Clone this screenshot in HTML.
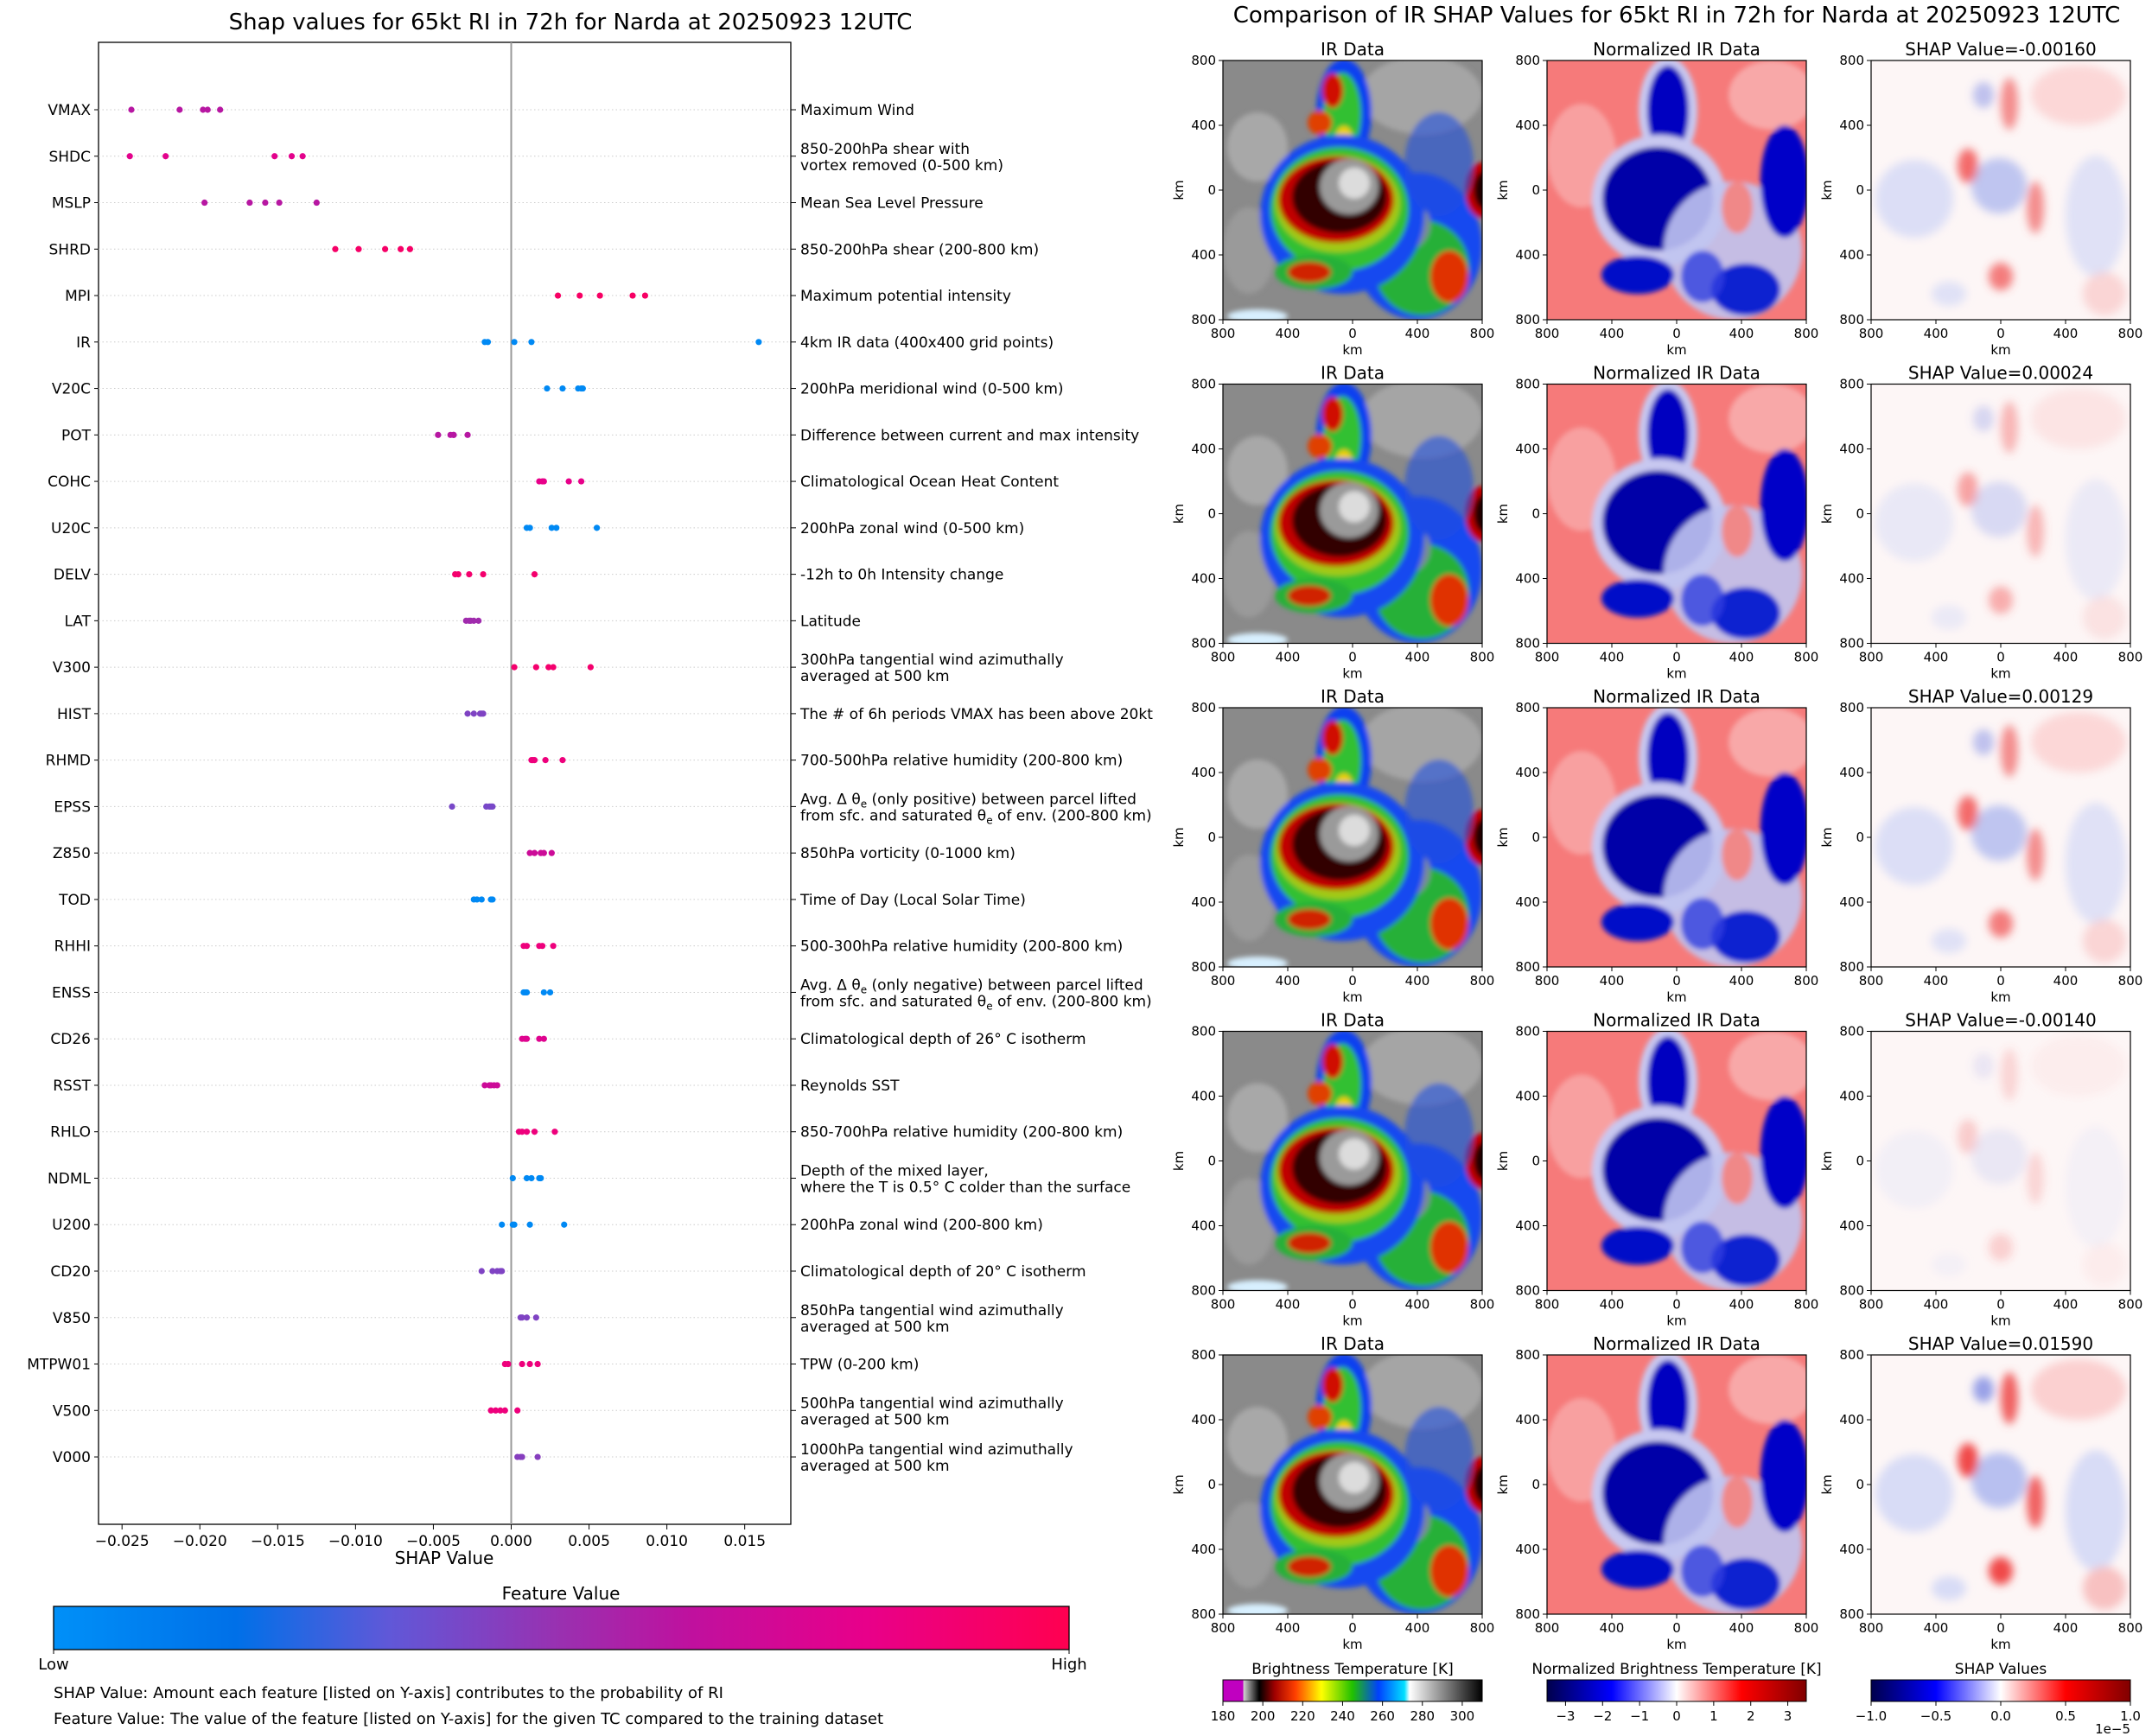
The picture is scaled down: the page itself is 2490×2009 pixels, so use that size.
<!DOCTYPE html>
<html><head><meta charset="utf-8">
<style>
html,body{margin:0;padding:0;background:#fff;}
svg{display:block;font-family:"DejaVu Sans","Liberation Sans",sans-serif;}
</style></head>
<body>
<svg id="fig" width="2490" height="2009" viewBox="0 0 2490 2009" xmlns="http://www.w3.org/2000/svg">
<defs>
<linearGradient id="fvgrad" x1="0" x2="1" y1="0" y2="0">
<stop offset="0" stop-color="#0090f8"/><stop offset="0.18" stop-color="#0070e8"/><stop offset="0.33" stop-color="#6058d8"/><stop offset="0.5" stop-color="#9a30b0"/><stop offset="0.63" stop-color="#c0109e"/><stop offset="0.8" stop-color="#e8008a"/><stop offset="1" stop-color="#ff0050"/>
</linearGradient>
<linearGradient id="irgrad" x1="0" x2="1">
<stop offset="0" stop-color="#c000c0"/><stop offset="0.077" stop-color="#c000c0"/><stop offset="0.08" stop-color="#d0d0d0"/><stop offset="0.14" stop-color="#000"/><stop offset="0.2" stop-color="#a00000"/><stop offset="0.28" stop-color="#ff4000"/><stop offset="0.38" stop-color="#ffff00"/><stop offset="0.5" stop-color="#20c000"/><stop offset="0.6" stop-color="#0040ff"/><stop offset="0.7" stop-color="#00e0ff"/><stop offset="0.72" stop-color="#ffffff"/><stop offset="1" stop-color="#000"/>
</linearGradient>
<linearGradient id="seis" x1="0" x2="1">
<stop offset="0" stop-color="#00004c"/><stop offset="0.25" stop-color="#0000ff"/><stop offset="0.5" stop-color="#ffffff"/><stop offset="0.75" stop-color="#ff0000"/><stop offset="1" stop-color="#800000"/>
</linearGradient>
<filter id="blur3"><feGaussianBlur stdDeviation="3"/></filter>
<filter id="blur6"><feGaussianBlur stdDeviation="5"/></filter>
</defs>
<g id="left"></g>
<g id="right"></g>
</svg>
<script>
// ---- Left chart data ----
const features = ["VMAX","SHDC","MSLP","SHRD","MPI","IR","V20C","POT","COHC","U20C","DELV","LAT","V300","HIST","RHMD","EPSS","Z850","TOD","RHHI","ENSS","CD26","RSST","RHLO","NDML","U200","CD20","V850","MTPW01","V500","V000"];
const descriptions = [
 ["Maximum Wind"],["850-200hPa shear with","vortex removed (0-500 km)"],["Mean Sea Level Pressure"],["850-200hPa shear (200-800 km)"],
 ["Maximum potential intensity"],["4km IR data (400x400 grid points)"],["200hPa meridional wind (0-500 km)"],["Difference between current and max intensity"],
 ["Climatological Ocean Heat Content"],["200hPa zonal wind (0-500 km)"],["-12h to 0h Intensity change"],["Latitude"],
 ["300hPa tangential wind azimuthally","averaged at 500 km"],["The # of 6h periods VMAX has been above 20kt"],["700-500hPa relative humidity (200-800 km)"],
 ["EPSS1","EPSS2"],["850hPa vorticity (0-1000 km)"],["Time of Day (Local Solar Time)"],["500-300hPa relative humidity (200-800 km)"],
 ["ENSS1","ENSS2"],["Climatological depth of 26° C isotherm"],["Reynolds SST"],["850-700hPa relative humidity (200-800 km)"],
 ["Depth of the mixed layer,","where the T is 0.5° C colder than the surface"],["200hPa zonal wind (200-800 km)"],["Climatological depth of 20° C isotherm"],
 ["850hPa tangential wind azimuthally","averaged at 500 km"],["TPW (0-200 km)"],["500hPa tangential wind azimuthally","averaged at 500 km"],["1000hPa tangential wind azimuthally","averaged at 500 km"]
];
const shapValues = [
 [-0.0244,-0.0213,-0.0198,-0.0195,-0.0187],
 [-0.0245,-0.0222,-0.0152,-0.0141,-0.0134],
 [-0.0197,-0.0168,-0.0158,-0.0149,-0.0125],
 [-0.0113,-0.0098,-0.0081,-0.0071,-0.0065],
 [0.0030,0.0044,0.0057,0.0078,0.0086],
 [-0.0017,-0.0015,0.0002,0.0013,0.0159],
 [0.0023,0.0033,0.0043,0.0045,0.0046],
 [-0.0047,-0.0039,-0.0037,-0.0037,-0.0028],
 [0.0018,0.0020,0.0021,0.0037,0.0045],
 [0.0010,0.0012,0.0026,0.0029,0.0055],
 [-0.0036,-0.0034,-0.0027,-0.0018,0.0015],
 [-0.0029,-0.0027,-0.0026,-0.0024,-0.0021],
 [0.0002,0.0016,0.0024,0.0027,0.0051],
 [-0.0028,-0.0024,-0.0020,-0.0019,-0.0018],
 [0.0013,0.0014,0.0015,0.0022,0.0033],
 [-0.0038,-0.0016,-0.0014,-0.0013,-0.0012],
 [0.0012,0.0015,0.0019,0.0021,0.0026],
 [-0.0024,-0.0022,-0.0019,-0.0013,-0.0012],
 [0.0008,0.0010,0.0018,0.0020,0.0027],
 [0.0008,0.0009,0.0010,0.0021,0.0025],
 [0.0007,0.0009,0.0010,0.0018,0.0021],
 [-0.0017,-0.0014,-0.0013,-0.0011,-0.0009],
 [0.0005,0.0007,0.0010,0.0015,0.0028],
 [0.0001,0.0010,0.0013,0.0018,0.0019],
 [-0.0006,0.0001,0.0002,0.0012,0.0034],
 [-0.0019,-0.0012,-0.0009,-0.0007,-0.0006],
 [0.0006,0.0007,0.0010,0.0016],
 [-0.0004,-0.0002,0.0007,0.0012,0.0017],
 [-0.0013,-0.0010,-0.0007,-0.0004,0.0004],
 [0.0004,0.0006,0.0007,0.0017]
];
const featureLevels = [0.6,0.78,0.6,0.92,0.93,0.04,0.04,0.6,0.8,0.04,0.9,0.52,0.9,0.42,0.85,0.4,0.68,0.04,0.85,0.04,0.76,0.68,0.85,0.04,0.04,0.42,0.42,0.85,0.85,0.44];
const xTicks = [-0.025,-0.020,-0.015,-0.010,-0.005,0.000,0.005,0.010,0.015];
const xTickLabels = ["\u22120.025","\u22120.020","\u22120.015","\u22120.010","\u22120.005","0.000","0.005","0.010","0.015"];

// ---- Right panel data ----
const panelTitles = ["IR Data","Normalized IR Data"];
const shapPanelValues = ["-0.00160","0.00024","0.00129","-0.00140","0.01590"];
const shapIntensity = [1.0,0.6,1.0,0.3,1.6];
const kmTicks = [800,400,0,-400,-800];
const kmTickLabels = ["800","400","0","400","800"];
const irCbTicks = [180,200,220,240,260,280,300];
const normCbTicks = [-3,-2,-1,0,1,2,3];
const normCbLabels = ["\u22123","\u22122","\u22121","0","1","2","3"];
const shapCbTicks = [-1.0,-0.5,0.0,0.5,1.0];
const shapCbLabels = ["\u22121.0","\u22120.5","0.0","0.5","1.0"];

const NS="http://www.w3.org/2000/svg";
function mk(tag, attrs, parent){const e=document.createElementNS(NS,tag);for(const k in attrs)e.setAttribute(k,attrs[k]);if(parent)parent.appendChild(e);return e;}

const AX={l:114,r:915,t:49,b:1764};
const X0=591.5, XS=18012;
function xScale(v){return X0+v*XS;}
function yScale(i){return 127+53.76*i;}

const stops=[[0,[0,144,248]],[0.18,[0,112,232]],[0.33,[96,88,216]],[0.5,[154,48,176]],[0.63,[192,16,158]],[0.8,[232,0,138]],[1,[255,0,80]]];
function cmap(t){for(let i=1;i<stops.length;i++){if(t<=stops[i][0]){const a=stops[i-1],b=stops[i];const f=(t-a[0])/(b[0]-a[0]);const c=a[1].map((v,j)=>Math.round(v+(b[1][j]-v)*f));return `rgb(${c.join(',')})`;}}return 'rgb(255,0,80)';}

const L=document.getElementById('left');
let t=mk('text',{x:660,y:34,'font-size':26,'text-anchor':'middle'},L);t.textContent="Shap values for 65kt RI in 72h for Narda at 20250923 12UTC";

const axes=mk('rect',{x:AX.l,y:AX.t,width:AX.r-AX.l,height:AX.b-AX.t,fill:'none',stroke:'#000','stroke-width':1.3},L);


features.forEach((f,i)=>{
  const y=yScale(i);
  const g=mk('line',{x1:AX.l,x2:AX.r,y1:y,y2:y,stroke:'#ccc','stroke-width':1,'stroke-dasharray':'1.5,3'},L);
  
  mk('line',{x1:AX.l-5,x2:AX.l,y1:y,y2:y,stroke:'#000'},L);
  mk('line',{x1:AX.r,x2:AX.r+6,y1:y,y2:y,stroke:'#000'},L);
  const lab=mk('text',{x:AX.l-9,y:y+6,'font-size':17,'text-anchor':'end'},L);lab.textContent=f;
  
  const d=descriptions[i];
  const dg=mk('text',{x:926,y:0,'font-size':17},L);
  
  if(d[0]==='EPSS1'||d[0]==='ENSS1'){
    const pos=d[0]==='EPSS1'?'positive':'negative';
    const s1=mk('tspan',{x:926,y:y-3},dg);s1.textContent='Avg. \u0394 \u03b8';
    const sb=mk('tspan',{'font-size':12,dy:4},dg);sb.textContent='e';
    const s2=mk('tspan',{dy:-4},dg);s2.textContent=' (only '+pos+') between parcel lifted';
    const s3=mk('tspan',{x:926,y:y+16},dg);s3.textContent='from sfc. and saturated \u03b8';
    const sb2=mk('tspan',{'font-size':12,dy:4},dg);sb2.textContent='e';
    const s4=mk('tspan',{dy:-4},dg);s4.textContent=' of env. (200-800 km)';
  } else if(d.length===2){
    const a=mk('tspan',{x:926,y:y-3},dg);a.textContent=d[0];
    const b=mk('tspan',{x:926,y:y+16},dg);b.textContent=d[1];
  } else {const a=mk('tspan',{x:926,y:y+6},dg);a.textContent=d[0];}
});
const zl=mk('line',{x1:xScale(0),x2:xScale(0),y1:AX.t,y2:AX.b,stroke:'#999','stroke-width':2},L);

features.forEach((f,i)=>{
  const y=yScale(i);
  shapValues[i].forEach((v,j)=>{
    const c=mk('circle',{cx:xScale(v),cy:y,r:3.6,fill:cmap(featureLevels[i])},L);
    
    
  });
});
xTicks.forEach((v,i)=>{
  const x=xScale(v);
  mk('line',{x1:x,x2:x,y1:AX.b,y2:AX.b+6,stroke:'#000'},L);
  const tl=mk('text',{x:x,y:AX.b+25,'font-size':17,'text-anchor':'middle'},L);tl.textContent=xTickLabels[i];
  
});
t=mk('text',{x:514,y:1810,'font-size':20,'text-anchor':'middle'},L);t.textContent="SHAP Value";

t=mk('text',{x:649,y:1851,'font-size':20,'text-anchor':'middle'},L);t.textContent="Feature Value";

const fcb=mk('rect',{x:62,y:1859,width:1175,height:50,fill:'url(#fvgrad)',stroke:'#000','stroke-width':1.3},L);

t=mk('text',{x:62,y:1932,'font-size':18,'text-anchor':'middle'},L);t.textContent="Low";

t=mk('text',{x:1237,y:1932,'font-size':18,'text-anchor':'middle'},L);t.textContent="High";

mk('line',{x1:62,x2:62,y1:1909,y2:1914,stroke:'#000'},L);mk('line',{x1:1237,x2:1237,y1:1909,y2:1914,stroke:'#000'},L);
t=mk('text',{x:62,y:1965,'font-size':18},L);t.textContent="SHAP Value: Amount each feature [listed on Y-axis] contributes to the probability of RI";

t=mk('text',{x:62,y:1995,'font-size':18},L);t.textContent="Feature Value: The value of the feature [listed on Y-axis] for the given TC compared to the training dataset";


// ---- Right panels ----
const R=document.getElementById('right');
t=mk('text',{x:1940,y:26,'font-size':26,'text-anchor':'middle'},R);t.textContent="Comparison of IR SHAP Values for 65kt RI in 72h for Narda at 20250923 12UTC";

const colX=[1415,1790,2165];
const PW=300, PH=300;
function el(g,cx,cy,rx,ry,fill,op){mk('ellipse',{cx,cy,rx,ry,fill,opacity:op===undefined?1:op},g);}
function drawIR(g){
  mk('rect',{x:0,y:0,width:PW,height:PH,fill:'#8a8a8a'},g);
  const b=mk('g',{filter:'url(#blur3)'},g);
  el(b,230,40,70,45,'#a5a5a5');el(b,40,100,35,40,'#a8a8a8');el(b,30,220,30,50,'#9a9a9a');el(b,40,296,35,8,'#d8f0ff');
  el(b,140,60,32,62,'#1040f0');el(b,138,62,22,48,'#30c030');el(b,127,35,12,20,'#d01000');el(b,112,72,14,14,'#e04000');el(b,140,90,10,14,'#f0d000');
  el(b,225,215,75,85,'#1848f0');el(b,230,240,55,55,'#28b038');el(b,262,250,22,30,'#e03000');el(b,210,190,30,30,'#7a8a9a');
  el(b,138,178,95,92,'#1848f0');el(b,135,172,80,72,'#30c030');el(b,133,166,72,56,'#f0d000',0.6);
  el(b,131,161,67,50,'#c00000');el(b,135,158,55,42,'#300000');el(b,146,146,34,32,'#9a9a9a');el(b,152,142,18,18,'#dcdcdc');
  el(b,300,150,20,32,'#c00000');el(b,302,150,12,22,'#200000');
  el(b,105,245,45,20,'#28b038');el(b,100,245,25,12,'#d02000');
  el(b,250,120,40,60,'#2050e0',0.6);
}
function drawNorm(g){
  mk('rect',{x:0,y:0,width:PW,height:PH,fill:'#f67a7a'},g);
  const b=mk('g',{filter:'url(#blur3)'},g);
  el(b,40,110,40,60,'#f8a0a0');el(b,260,40,50,40,'#f8a8a8');
  el(b,140,58,34,62,'#c8c8f0');el(b,140,58,24,52,'#0000c0');
  el(b,130,162,78,76,'#c8c8f0');el(b,128,160,64,60,'#0000a8');
  el(b,215,220,80,80,'#c0c4f0',0.9);el(b,275,140,28,65,'#0000c8');el(b,230,265,40,30,'#1020d0');
  el(b,105,248,42,22,'#0010c8');el(b,180,250,25,30,'#3040e0',0.8);el(b,220,170,18,30,'#f08888');
}
function drawShap(g,k){
  mk('rect',{x:0,y:0,width:PW,height:PH,fill:'#fdf6f6'},g);
  const b=mk('g',{filter:'url(#blur6)'},g);
  const o=v=>Math.min(1,v*k);
  el(b,240,40,55,35,'#fbd0d0',o(0.8));el(b,50,160,45,45,'#d8dcf6',o(0.9));el(b,260,180,35,70,'#d8dcf6',o(0.8));
  el(b,148,145,32,32,'#b8c0f0',o(0.9));el(b,112,122,12,20,'#f04848',o(0.8));el(b,190,170,10,30,'#f06060',o(0.7));
  el(b,160,50,10,30,'#f06060',o(0.7));el(b,150,250,14,16,'#f04848',o(0.7));el(b,90,270,20,14,'#d8dcf6',o(0.8));
  el(b,270,270,25,25,'#f8c0c0',o(0.6));el(b,130,40,12,15,'#6070e0',o(0.4));
}
for(let r=0;r<5;r++){
  const y0=70+374.5*r;
  for(let c=0;c<3;c++){
    const x0=colX[c];
    const g=mk('g',{transform:`translate(${x0},${y0})`},R);
    
    
    const cp=mk('clipPath',{id:`cp${r}${c}`},g);mk('rect',{x:0,y:0,width:PW,height:PH},cp);
    const img=mk('g',{'clip-path':`url(#cp${r}${c})`},g);
    if(c===0)drawIR(img);else if(c===1)drawNorm(img);else drawShap(img,shapIntensity[r]);
    mk('rect',{x:0,y:0,width:PW,height:PH,fill:'none',stroke:'#000','stroke-width':1.2},g);
    const tt=mk('text',{x:PW/2,y:-6,'font-size':20,'text-anchor':'middle'},g);
    tt.textContent=c<2?panelTitles[c]:'SHAP Value='+shapPanelValues[r];
    
    kmTicks.forEach((v,i)=>{
      const px=(800-v)/1600*PW, py=(800-v)/1600*PH;
      mk('line',{x1:px,x2:px,y1:PH,y2:PH+5,stroke:'#000'},g);
      const a=mk('text',{x:px,y:PH+21,'font-size':15,'text-anchor':'middle'},g);a.textContent=kmTickLabels[i];
      mk('line',{x1:-5,x2:0,y1:py,y2:py,stroke:'#000'},g);
      const bb=mk('text',{x:-8,y:py+5,'font-size':15,'text-anchor':'end'},g);bb.textContent=kmTickLabels[i];
    });
    const xl=mk('text',{x:PW/2,y:PH+40,'font-size':15,'text-anchor':'middle'},g);xl.textContent='km';
    
    const yl=mk('text',{x:0,y:0,'font-size':15,'text-anchor':'middle',transform:`translate(-46,${PH/2}) rotate(-90)`},g);yl.textContent='km';
    
  }
}
function colorbar(x0,title,fill,ticks,labels,vmin,vmax,name){
  const g=mk('g',{transform:`translate(${x0},1944)`},R);
  
  const tt=mk('text',{x:150,y:-7,'font-size':17,'text-anchor':'middle'},g);tt.textContent=title;
  mk('rect',{x:0,y:0,width:300,height:25,fill:fill,stroke:'#000','stroke-width':1},g);
  ticks.forEach((v,i)=>{const px=(v-vmin)/(vmax-vmin)*300;
    mk('line',{x1:px,x2:px,y1:25,y2:30,stroke:'#000'},g);
    const a=mk('text',{x:px,y:47,'font-size':15,'text-anchor':'middle'},g);a.textContent=labels[i];});
  return g;
}
colorbar(1415,'Brightness Temperature [K]','url(#irgrad)',irCbTicks,irCbTicks.map(String),180,310,'ir-colorbar');
colorbar(1790,'Normalized Brightness Temperature [K]','url(#seis)',normCbTicks,normCbLabels,-3.5,3.5,'normalized-colorbar');
const sc=colorbar(2165,'SHAP Values','url(#seis)',shapCbTicks,shapCbLabels,-1,1,'shap-colorbar');
const ex=mk('text',{x:300,y:62,'font-size':15,'text-anchor':'end'},sc);ex.textContent='1e\u22125';
</script>
</body></html>
